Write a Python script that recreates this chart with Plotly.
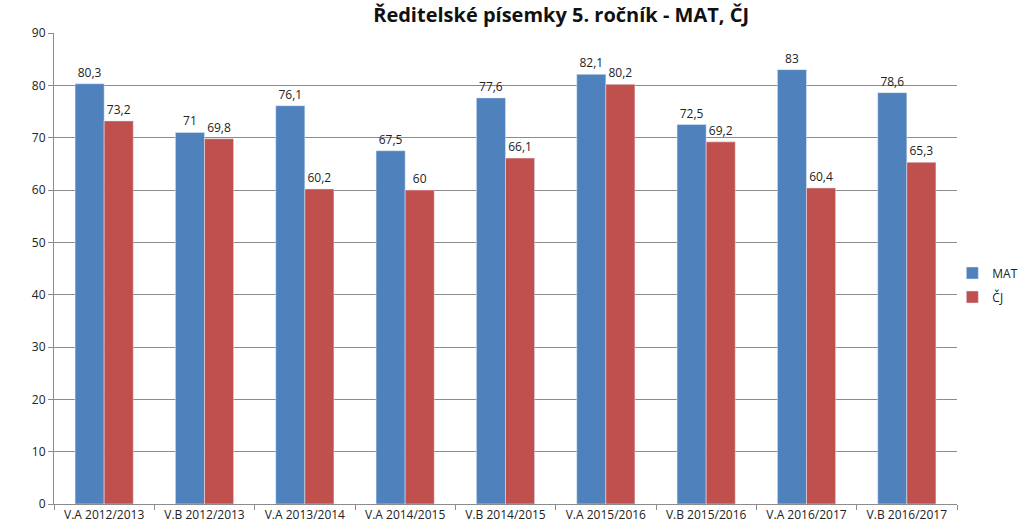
import plotly.graph_objects as go

categories = ["V.A 2012/2013", "V.B 2012/2013", "V.A 2013/2014", "V.A 2014/2015",
              "V.B 2014/2015", "V.A 2015/2016", "V.B 2015/2016", "V.A 2016/2017", "V.B 2016/2017"]
mat = [80.3, 71, 76.1, 67.5, 77.6, 82.1, 72.5, 83, 78.6]
cj = [73.2, 69.8, 60.2, 60, 66.1, 80.2, 69.2, 60.4, 65.3]
yticks = [0, 10, 20, 30, 40, 50, 60, 70, 80, 90]

def fmt(v):
    return ("%g" % v).replace(".", ",")

font = "Open Sans, Noto Sans, sans-serif"

fig = go.Figure()
fig.add_trace(go.Bar(name="MAT", x=categories, y=mat, marker_color="#4F81BD", legendgroup="a",
                     text=[fmt(v) for v in mat], textposition="outside", cliponaxis=False,
                     textfont=dict(size=12, color="#222222")))
fig.add_trace(go.Bar(name="ČJ", x=categories, y=cj, marker_color="#C0504D", legendgroup="b",
                     text=[fmt(v) for v in cj], textposition="outside", cliponaxis=False,
                     textfont=dict(size=12, color="#222222")))

fig.update_layout(
    width=1024, height=531,
    margin=dict(l=54, r=67, t=33, b=27, autoexpand=False),
    paper_bgcolor="white", plot_bgcolor="white",
    barmode="group", bargap=0.42, bargroupgap=0,
    font=dict(family=font, size=12, color="#222222"),
    title=dict(text="<b>Ředitelské písemky 5. ročník - MAT, ČJ</b>", x=0.548, xanchor="center",
               y=0.972, yanchor="middle", font=dict(size=20, color="#111111", family=font)),
    legend=dict(xref="container", x=0.93, y=0.465, xanchor="left", yanchor="middle",
                font=dict(size=12), bgcolor="rgba(0,0,0,0)", itemwidth=30,
                traceorder="grouped", tracegroupgap=5),
    showlegend=True,
)
fig.update_xaxes(type="category", showline=True, linecolor="#8c8c8c", linewidth=1,
                 ticks="outside", tickson="boundaries", ticklen=5, tickcolor="#8c8c8c",
                 showgrid=False, tickfont=dict(size=12), automargin=False)
fig.update_yaxes(range=[0, 90], tickvals=yticks, showline=True, linecolor="#8c8c8c", linewidth=1,
                 ticks="outside", ticklen=5, tickcolor="#8c8c8c",
                 showgrid=True, gridcolor="#8c8c8c", gridwidth=1, zeroline=False,
                 tickfont=dict(size=12), automargin=False)

fig.write_html("out.html", config={"displayModeBar": False},
               post_script="document.body.style.margin='0';document.body.style.overflow='hidden';")
